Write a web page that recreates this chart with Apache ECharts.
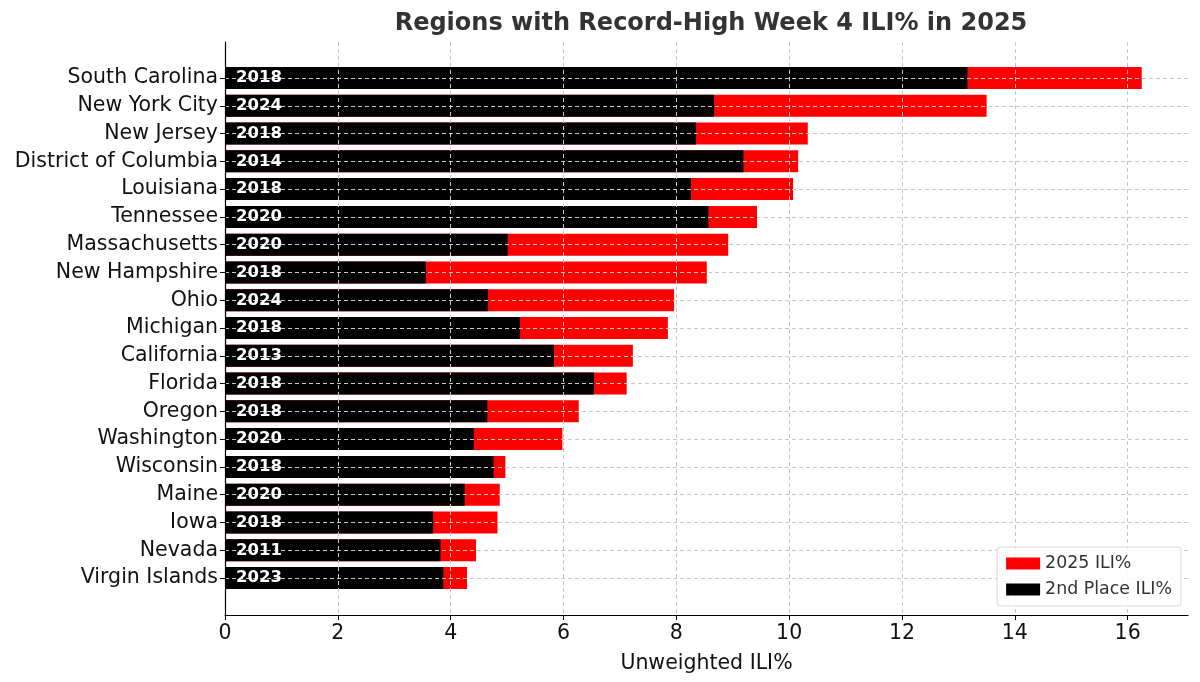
<!DOCTYPE html>
<html>
<head>
<meta charset="utf-8">
<script src="https://cdn.jsdelivr.net/npm/echarts@6/dist/echarts.min.js"></script>
<style>html,body{margin:0;padding:0;background:#fff}#c{width:1200px;height:682px}</style>
</head>
<body>
<div id="c"></div>
<script>
const regions = ["South Carolina","New York City","New Jersey","District of Columbia","Louisiana","Tennessee","Massachusetts","New Hampshire","Ohio","Michigan","California","Florida","Oregon","Washington","Wisconsin","Maine","Iowa","Nevada","Virgin Islands"];
const ili2025 = [16.25,13.50,10.33,10.16,10.07,9.43,8.92,8.54,7.96,7.85,7.23,7.12,6.27,5.98,4.97,4.87,4.83,4.45,4.29];
const secondPlace = [13.16,8.67,8.35,9.19,8.26,8.57,5.01,3.56,4.66,5.23,5.83,6.54,4.65,4.41,4.76,4.25,3.69,3.82,3.87];
const secondYears = ["2018","2024","2018","2014","2018","2020","2020","2018","2024","2018","2013","2018","2018","2020","2018","2020","2018","2011","2023"];
const xTicks = [0,2,4,6,8,10,12,14,16];

const FONT = "DejaVu Sans";
const chart = echarts.init(document.getElementById('c'), null, {renderer:'canvas'});
const gridStyle = {show:true, lineStyle:{color:'#c8c8c8', type:[4,3], width:1}};
chart.setOption({
  animation:false,
  backgroundColor:'#fff',
  textStyle:{fontFamily:FONT},
  title:{text:'Regions with Record-High Week 4 ILI% in 2025', left:706, textAlign:'center', top:7,
    textStyle:{fontFamily:FONT, fontSize:24, fontWeight:'bold', color:'#333'}},
  legend:{orient:'vertical', right:19, bottom:76, data:['2025 ILI%','2nd Place ILI%'], icon:'rect',
    itemWidth:34, itemHeight:12, itemGap:9, padding:[8,9,8,9],
    backgroundColor:'rgba(255,255,255,0.85)', borderColor:'#d8d8d8', borderWidth:1, borderRadius:3,
    textStyle:{fontFamily:FONT, fontSize:17.4, color:'#333'}},
  grid:[
    {left:225, right:12, top:42, bottom:67, containLabel:false},
    {left:225, right:12, top:78, bottom:104, containLabel:false}
  ],
  xAxis:[
    {gridIndex:0, type:'value', min:0, max:17.07, interval:2, z:3,
     axisLine:{show:true, lineStyle:{color:'#000', width:1.2}},
     axisTick:{show:true, length:5, lineStyle:{color:'#000'}},
     axisLabel:{fontFamily:FONT, fontSize:20.5, color:'#111', margin:8, showMaxLabel:false,
       formatter:v => xTicks.includes(v) ? String(v) : ''},
     splitLine:Object.assign({showMinLine:false, showMaxLine:false}, gridStyle),
     name:'Unweighted ILI%', nameLocation:'middle', nameGap:38,
     nameTextStyle:{fontFamily:FONT, fontSize:20.5, color:'#111'}},
    {gridIndex:1, type:'value', min:0, max:17.07, show:false}
  ],
  yAxis:[
    {gridIndex:0, type:'value', min:0, max:1, z:3,
     axisLine:{show:true, onZero:false, lineStyle:{color:'#000', width:1.2}},
     axisTick:{show:false}, axisLabel:{show:false}, splitLine:{show:false}},
    {gridIndex:1, type:'category', data:regions, inverse:true, boundaryGap:false, z:3,
     axisLine:{show:false},
     axisTick:{show:true, length:5, alignWithLabel:true, lineStyle:{color:'#000'}},
     axisLabel:{fontFamily:FONT, fontSize:20.5, color:'#111', margin:7},
     splitLine:gridStyle}
  ],
  series:[
    {name:'2025 ILI%', type:'bar', xAxisIndex:1, yAxisIndex:1, data:ili2025, barWidth:22, barGap:'-100%',
     itemStyle:{color:'#ff0000'}, z:2},
    {name:'2nd Place ILI%', type:'bar', xAxisIndex:1, yAxisIndex:1, data:secondPlace, barWidth:22, barGap:'-100%',
     itemStyle:{color:'#000000'}, z:2},
    {name:'years', type:'bar', xAxisIndex:1, yAxisIndex:1, data:secondPlace, barWidth:22, barGap:'-100%',
     itemStyle:{color:'rgba(0,0,0,0)'}, z:5, silent:true,
     label:{show:true, position:'insideLeft', distance:11, color:'#fff', fontFamily:FONT, fontWeight:'bold', fontSize:16.5,
       formatter:p => secondYears[p.dataIndex]}}
  ]
});
</script>
</body>
</html>
